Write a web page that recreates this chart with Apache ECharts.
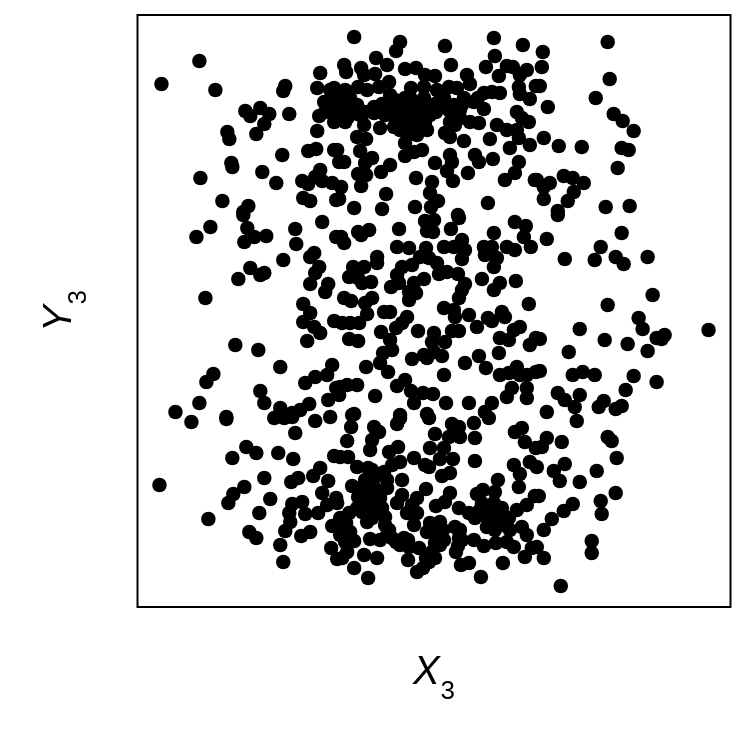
<!DOCTYPE html>
<html><head><meta charset="utf-8">
<style>html,body{margin:0;padding:0;background:#fff}#c{width:744px;height:730px}</style>
<script src="https://cdn.jsdelivr.net/npm/echarts@6/dist/echarts.min.js"></script>
</head><body><div id="c"></div>
<script>
// Points, in one unit per image pixel, grouped by region of the plot.
const topLeft=[[161,84],[199,61],[215,90],[285,86],[283,91],[320,73],[317,88],[245,111],[250,116],[260,108],[269,114],[264,124],[256,134],[289,114],[227,132],[229,139],[317,131],[308,151],[316,149],[334,150],[282,155],[231,163],[232,167],[262,172],[276,183],[200,178],[302,181],[308,184],[320,170],[315,177],[322,181],[332,183],[222,201],[248,206],[243,212],[303,198],[310,201],[336,200],[334,97],[324,102],[327,108],[319,116],[334,122],[332,112]];
const topMiddle=[[354,37],[400,42],[396,51],[376,58],[387,65],[445,46],[451,65],[494,38],[495,56],[523,45],[486,67],[507,66],[513,67],[499,76],[344,65],[346,72],[361,68],[364,75],[375,74],[405,69],[416,68],[425,75],[435,76],[467,75],[470,84],[527,70],[520,75],[519,87],[520,94],[530,99],[536,86],[411,88],[424,87],[437,90],[449,87],[457,88],[389,82],[379,87],[358,87],[350,98],[342,105],[339,95],[340,115],[347,108],[367,90],[390,95],[397,102],[404,105],[424,98],[374,107],[365,112],[360,115],[389,110],[407,113],[419,112],[430,105],[444,98],[454,105],[464,98],[474,102],[484,93],[492,92],[500,93],[484,109],[460,110],[449,110],[437,103],[364,125],[380,128],[394,127],[400,130],[410,125],[420,122],[427,130],[417,135],[450,122],[445,133],[450,137],[470,122],[479,123],[464,141],[497,125],[507,130],[517,112],[522,118],[529,122],[517,130],[490,139],[519,138],[510,148],[530,145],[357,137],[366,139],[360,151],[405,143],[405,156],[414,152],[422,150],[337,150],[372,158],[365,163],[344,162],[339,162],[390,165],[381,172],[435,163],[450,155],[452,162],[447,171],[475,155],[479,162],[493,159],[468,173],[453,181],[519,162],[515,173],[505,180],[535,180],[416,178],[432,182],[430,193],[358,174],[366,175],[361,186],[341,187],[339,199],[386,194],[354,208],[382,209],[415,207],[438,201],[431,207],[488,203],[458,215]];
const topDense=[[395,100],[405,98],[412,100],[418,104],[412,107],[398,112],[388,103],[410,118],[402,118],[425,115],[415,128],[425,122],[405,108],[395,118],[430,115],[436,112],[440,105],[352,105],[335,103],[357,105],[348,117],[374,113],[382,104],[462,105],[478,98],[445,105],[452,112],[330,90],[334,88],[325,112],[345,90],[335,115],[345,122],[385,115],[460,118],[455,125],[408,135],[402,125]];
const topRight=[[608,42],[543,52],[542,67],[540,86],[548,107],[610,79],[596,98],[614,114],[623,121],[634,131],[544,138],[559,146],[582,147],[622,148],[629,150],[618,168],[564,176],[573,178],[584,183],[550,183],[544,187],[537,180],[574,192],[568,201],[544,199],[558,211],[606,207],[630,206]];
const midLeft=[[243,215],[210,227],[196,237],[247,228],[244,242],[254,237],[266,236],[295,229],[296,244],[322,222],[336,237],[283,260],[314,253],[310,257],[319,267],[315,273],[310,284],[328,284],[325,292],[250,268],[260,275],[264,273],[238,279],[205,298],[303,304],[310,313],[303,322],[314,327],[320,333],[334,321],[307,341],[235,345],[258,350],[280,367],[213,374],[206,382],[332,365],[327,375],[315,377],[305,383],[336,388],[328,400],[260,391],[264,403],[199,403],[175,412],[280,408],[292,413],[300,410],[309,404],[226,417]];
const midMiddle=[[341,237],[344,243],[358,232],[369,230],[361,235],[399,229],[425,221],[434,220],[427,231],[433,232],[459,218],[451,229],[494,233],[515,222],[526,226],[524,237],[531,247],[397,247],[409,248],[426,248],[444,247],[454,247],[462,240],[465,250],[462,259],[484,247],[492,247],[485,255],[497,258],[494,267],[507,247],[515,250],[377,257],[377,263],[364,267],[353,267],[349,277],[358,278],[362,283],[371,282],[402,267],[412,265],[420,257],[429,258],[437,263],[397,275],[399,283],[391,287],[439,274],[447,272],[458,274],[465,284],[462,290],[459,298],[482,279],[500,283],[494,290],[516,281],[424,279],[414,283],[416,293],[409,292],[409,300],[344,298],[351,301],[372,298],[365,303],[367,314],[384,312],[390,312],[444,308],[454,310],[455,317],[469,315],[529,304],[488,318],[502,312],[505,317],[492,321],[477,327],[342,323],[350,323],[359,323],[407,317],[402,323],[396,328],[418,331],[381,332],[452,331],[459,331],[520,327],[514,330],[500,338],[509,340],[530,345],[536,338],[349,339],[358,341],[434,333],[432,342],[445,342],[390,340],[392,350],[383,353],[380,363],[366,367],[388,372],[412,359],[424,355],[434,352],[442,356],[427,358],[465,363],[479,356],[499,353],[486,368],[444,375],[500,375],[509,373],[517,367],[520,375],[536,372],[527,375],[405,380],[397,386],[411,391],[423,393],[433,394],[414,403],[375,396],[357,385],[347,385],[340,387],[339,395],[512,388],[507,397],[527,388],[527,398],[469,403],[446,403],[492,403],[485,412],[354,414],[400,415],[427,414]];
const midRight=[[558,215],[622,233],[547,239],[601,247],[565,259],[595,260],[616,257],[624,264],[648,257],[653,295],[608,305],[639,318],[643,329],[709,330],[580,329],[665,335],[657,338],[662,339],[540,339],[605,340],[628,344],[648,351],[569,352],[540,371],[573,375],[583,372],[595,375],[634,376],[657,382],[626,390],[558,393],[565,400],[580,395],[575,407],[604,401],[599,407],[622,406],[616,409],[547,412]];
const bottomLeft=[[191,422],[226,419],[274,418],[284,418],[292,417],[315,421],[330,417],[295,433],[246,447],[256,453],[232,458],[278,453],[293,459],[334,456],[264,478],[244,487],[159,485],[233,494],[228,503],[270,499],[259,513],[208,519],[249,532],[256,538],[320,468],[313,476],[328,481],[298,478],[291,482],[322,493],[336,498],[292,504],[302,502],[305,514],[289,513],[318,513],[327,505],[290,522],[285,531],[332,526],[310,532],[301,536],[280,545],[283,562],[331,548],[337,559]];
const bottomMiddle=[[352,415],[351,427],[347,441],[374,427],[379,432],[372,440],[370,450],[400,418],[397,424],[429,418],[435,434],[452,424],[459,427],[474,423],[489,418],[460,437],[475,438],[449,437],[444,448],[430,448],[440,459],[453,459],[475,461],[515,432],[522,428],[525,442],[536,448],[389,452],[398,447],[348,457],[340,457],[357,467],[368,468],[400,462],[392,465],[384,472],[414,458],[425,465],[429,467],[450,473],[442,476],[514,465],[530,462],[520,474],[402,480],[387,480],[377,475],[370,478],[352,486],[362,487],[374,487],[387,488],[498,480],[495,492],[519,487],[426,489],[483,490],[477,494],[535,496],[450,493],[445,502],[436,506],[417,498],[402,495],[397,503],[370,498],[380,498],[365,503],[357,508],[349,513],[337,503],[375,512],[385,517],[367,522],[407,513],[417,513],[414,525],[459,508],[469,513],[482,503],[494,503],[502,508],[484,515],[475,518],[492,517],[509,518],[517,510],[527,505],[522,527],[527,535],[500,525],[487,527],[440,522],[430,523],[427,532],[437,532],[460,530],[342,525],[350,532],[389,530],[392,538],[370,539],[380,540],[354,541],[345,542],[435,543],[444,540],[459,538],[458,546],[474,540],[484,546],[496,543],[507,542],[514,547],[400,545],[409,547],[419,548],[347,552],[342,558],[364,555],[377,558],[408,560],[435,558],[429,562],[423,568],[417,572],[354,568],[368,578],[461,565],[469,563],[503,563],[481,577],[525,557],[532,548]];
const bottomDense=[[365,480],[372,483],[380,492],[368,493],[358,497],[374,504],[362,512],[372,518],[382,508],[340,518],[346,523],[340,535],[348,540],[387,535],[396,542],[404,538],[385,525],[408,540],[490,510],[498,515],[505,525],[495,530],[480,510],[510,530],[436,525],[443,530],[440,545],[455,527],[462,540],[456,552],[432,552],[426,558],[412,505],[372,470]];
const bottomRight=[[577,421],[547,438],[542,447],[562,442],[608,437],[612,441],[617,458],[537,467],[565,464],[554,471],[560,481],[597,471],[580,482],[616,493],[601,501],[602,514],[539,496],[573,504],[564,511],[552,519],[544,530],[592,541],[592,553],[537,547],[544,558],[561,586]];
const xRange=[137,731];
const yRange=[15,607];
const allPoints=[].concat(topLeft,topMiddle,topDense,topRight,midLeft,midMiddle,midRight,bottomLeft,bottomMiddle,bottomDense,bottomRight);

const font='"Liberation Sans", Arial, sans-serif';
const nameRich={v:{fontFamily:font,fontStyle:'italic',fontSize:40,color:'#000'},s:{fontFamily:font,fontSize:26,color:'#000',verticalAlign:'bottom',padding:[0,0,-12,1]}};
const chart=echarts.init(document.getElementById('c'),null,{renderer:'canvas'});
chart.setOption({
  animation:false,
  backgroundColor:'#fff',
  grid:{left:137.5,top:15,width:593,height:592,show:true,borderColor:'#000',borderWidth:2,backgroundColor:'transparent',containLabel:false},
  xAxis:{type:'value',min:xRange[0],max:xRange[1],splitLine:{show:false},axisLine:{show:false},axisTick:{show:false},axisLabel:{show:false},
    name:'{v|X}{s|3}',nameLocation:'middle',nameGap:46,nameTextStyle:{rich:nameRich}},
  yAxis:{type:'value',inverse:true,min:yRange[0],max:yRange[1],splitLine:{show:false},axisLine:{show:false},axisTick:{show:false},axisLabel:{show:false},
    name:'{v|Y}{s|3}',nameLocation:'middle',nameGap:58,nameRotate:90,nameTextStyle:{rich:nameRich}},
  series:[{type:'scatter',data:allPoints,symbol:'circle',symbolSize:14.5,itemStyle:{color:'#000',opacity:1},silent:true,large:false}]
});
</script></body></html>
